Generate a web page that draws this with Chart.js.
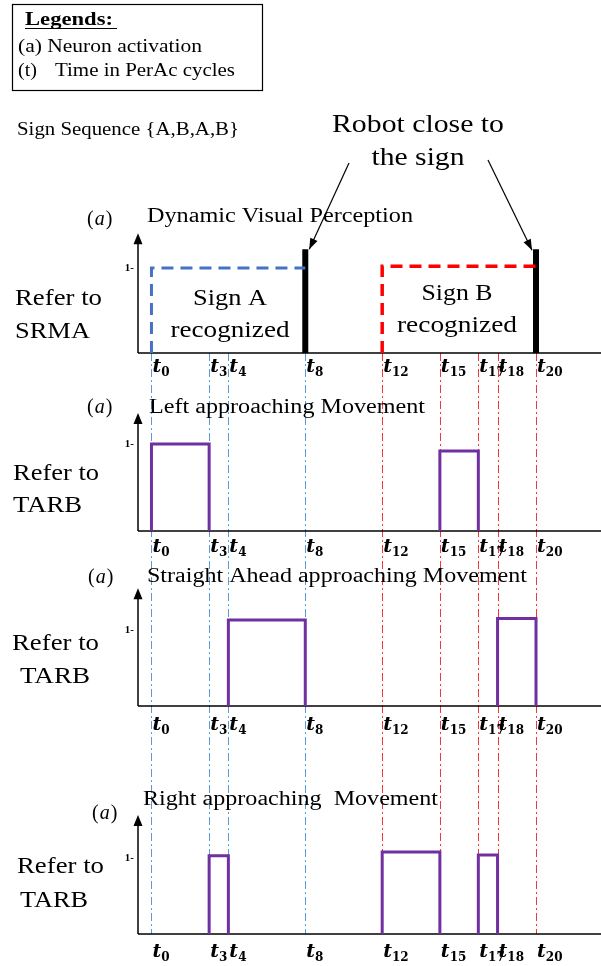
<!DOCTYPE html>
<html lang="en">
<head>
<meta charset="UTF-8">
<title>Sign Sequence {A,B,A,B}</title>
<script src="https://cdn.jsdelivr.net/npm/chart.js"></script>
<style>
  body { margin: 0; background: #fff; }
  canvas { display: block; }
</style>
</head>
<body>
<canvas id="chart" width="601" height="966"></canvas>
<script>
// time instants (PerAc cycles) and their subscripts
const times = [0, 3, 4, 8, 12, 15, 17, 18, 20];
const tickSubs = ['0', '3', '4', '8', '12', '15', '17', '18', '20'];

// dynamic visual perception (SRMA)
const signATimes = [0, 8], signALevel = 1.0;
const signBTimes = [12, 20], signBLevel = 1.02;
const closeTimes = [8, 20], closeLevel = 1.22;

// movement pulses: [start, end, activation]
const leftPulses = [[0, 3, 1.0], [15, 17, 0.92]];
const straightPulses = [[4, 8, 1.13], [18, 20, 1.15]];
const rightPulses = [[3, 4, 1.03], [12, 15, 1.08], [17, 18, 1.04]];

const H = 966;
const SERIF = 'Liberation Serif';

// one stacked panel per y axis (base/unit = where the panel sits on the page)
const panels = [
  { id: 'y1', base: 353, unit: 85, arrowTop: 1.41, tickDy: 19,
    title: 'Dynamic Visual Perception', tx: 147, ty: 222, tw: 266, ax: 87, ay: 225,
    side: [['Refer to', 15, 305, 87], ['SRMA', 15, 338, 75]] },
  { id: 'y2', base: 531, unit: 87, arrowTop: 1.356, tickDy: 21,
    title: 'Left approaching Movement', tx: 149, ty: 413, tw: 276, ax: 87, ay: 413,
    side: [['Refer to', 13, 480, 86], ['TARB', 13, 512, 69]] },
  { id: 'y3', base: 706, unit: 76, arrowTop: 1.55, tickDy: 24,
    title: 'Straight Ahead approaching Movement', tx: 147, ty: 582, tw: 380, ax: 88, ay: 583,
    side: [['Refer to', 12, 650, 87], ['TARB', 20, 683, 70]] },
  { id: 'y4', base: 934, unit: 76, arrowTop: 1.566, tickDy: 23,
    title: 'Right approaching  Movement', tx: 143, ty: 805, tw: 295, ax: 92, ay: 819,
    side: [['Refer to', 17, 873, 87], ['TARB', 20, 907, 68]] }
];

function pulseData(list) {
  const out = [];
  list.forEach(([a, b, v]) => {
    out.push({x: a, y: 0}, {x: a, y: v}, {x: b, y: v}, {x: b, y: 0}, {x: b, y: null});
  });
  return out;
}
function barData(ts, v) {
  const out = [];
  ts.forEach(t => out.push({x: t, y: 0}, {x: t, y: v}, {x: t, y: null}));
  return out;
}

function line(ctx, x1, y1, x2, y2) {
  ctx.beginPath(); ctx.moveTo(x1, y1); ctx.lineTo(x2, y2); ctx.stroke();
}
function arrowHead(ctx, x1, y1, x2, y2, len, half) {
  const a = Math.atan2(y2 - y1, x2 - x1);
  ctx.beginPath();
  ctx.moveTo(x2, y2);
  ctx.lineTo(x2 - len * Math.cos(a) + half * Math.sin(a), y2 - len * Math.sin(a) - half * Math.cos(a));
  ctx.lineTo(x2 - len * Math.cos(a) - half * Math.sin(a), y2 - len * Math.sin(a) + half * Math.cos(a));
  ctx.closePath(); ctx.fill();
}
// text squeezed/stretched to the width it has in the figure
function text(ctx, s, x, y, font, w, align) {
  ctx.save();
  ctx.font = font;
  ctx.textBaseline = 'alphabetic';
  ctx.textAlign = align || 'left';
  const k = w ? w / ctx.measureText(s).width : 1;
  ctx.translate(x, y); ctx.scale(k, 1);
  ctx.fillText(s, 0, 0);
  ctx.restore();
}

const drawing = {
  id: 'drawing',
  beforeDatasetsDraw(chart) {
    const {ctx, chartArea, scales} = chart;
    const xs = scales.x;
    const top = scales.y1.getPixelForValue(0), bottom = scales.y4.getPixelForValue(0);
    ctx.save();
    // dash-dot guides through all panels
    ctx.lineWidth = 1;
    ctx.setLineDash([8, 3, 2, 3]);
    times.forEach(t => {
      const px = Math.round(xs.getPixelForValue(t)) + 0.5;
      ctx.strokeStyle = t <= 8 ? '#5B9BD5' : 'rgba(255,0,0,0.8)';
      line(ctx, px, top, px, bottom);
    });
    ctx.setLineDash([]);
    ctx.strokeStyle = '#000'; ctx.fillStyle = '#000';
    panels.forEach(p => {
      const s = scales[p.id];
      const b = s.getPixelForValue(0), t = s.getPixelForValue(p.arrowTop);
      ctx.lineWidth = 1.5;
      line(ctx, chartArea.left, b, chartArea.right, b);
      line(ctx, chartArea.left, b, chartArea.left, t + 6);
      arrowHead(ctx, chartArea.left, b, chartArea.left, t, 11, 4.5);
      ctx.font = 'bold 11px ' + SERIF;
      ctx.textAlign = 'right'; ctx.textBaseline = 'middle';
      ctx.fillText('1-', chartArea.left - 4, s.getPixelForValue(1));
    });
    ctx.restore();
  },
  afterDatasetsDraw(chart) {
    const {ctx, scales} = chart;
    const xs = scales.x;
    ctx.save();
    ctx.fillStyle = '#000'; ctx.strokeStyle = '#000';

    // legend box
    ctx.lineWidth = 1.2;
    ctx.strokeRect(12.5, 4.5, 250, 86);
    text(ctx, 'Legends:', 25, 25, 'bold 19px ' + SERIF, 88);
    line(ctx, 25, 28.5, 117, 28.5);
    text(ctx, '(a) Neuron activation', 18, 52, '19px ' + SERIF, 184);
    text(ctx, '(t)', 18, 76, '19px ' + SERIF, 19);
    text(ctx, 'Time in PerAc cycles', 55, 76, '19px ' + SERIF, 180);
    text(ctx, 'Sign Sequence {A,B,A,B}', 17, 135, '19px ' + SERIF, 222);

    // robot close to the sign + arrows to the black bars
    text(ctx, 'Robot close to', 418, 132, '25px ' + SERIF, 172, 'center');
    text(ctx, 'the sign', 418, 165, '25px ' + SERIF, 93, 'center');
    const barTop = scales.y1.getPixelForValue(closeLevel);
    const ends = [[349, 163, xs.getPixelForValue(closeTimes[0]) + 4, barTop],
                  [488, 160, xs.getPixelForValue(closeTimes[1]) - 4, barTop + 1]];
    ctx.lineWidth = 1.2;
    ends.forEach(([x1, y1, x2, y2]) => {
      line(ctx, x1, y1, x2, y2);
      arrowHead(ctx, x1, y1, x2, y2, 11, 4);
    });

    // sign boxes captions
    text(ctx, 'Sign A', 230, 305, '23px ' + SERIF, 74, 'center');
    text(ctx, 'recognized', 230, 337, '23px ' + SERIF, 119, 'center');
    text(ctx, 'Sign B', 457, 300, '23px ' + SERIF, 71, 'center');
    text(ctx, 'recognized', 457, 332, '23px ' + SERIF, 120, 'center');

    panels.forEach(p => {
      const s = scales[p.id];
      const b = s.getPixelForValue(0);
      // panel titles
      text(ctx, p.title, p.tx, p.ty, '20px ' + SERIF, p.tw);
      ctx.font = '20px ' + SERIF; ctx.textAlign = 'left'; ctx.textBaseline = 'alphabetic';
      let ax = p.ax;
      ctx.fillText('(', ax, p.ay); ax += ctx.measureText('(').width + 1;
      ctx.font = 'italic 20px ' + SERIF;
      ctx.fillText('a', ax, p.ay); ax += ctx.measureText('a').width + 1;
      ctx.font = '20px ' + SERIF;
      ctx.fillText(')', ax, p.ay);
      p.side.forEach(([s2, x, y, w]) => text(ctx, s2, x, y, '23px ' + SERIF, w));
      // time ticks t_n
      times.forEach((t, i) => {
        const px = xs.getPixelForValue(t) + 1;
        const by = b + p.tickDy;
        ctx.font = 'bold italic 19px "DejaVu Serif"';
        ctx.fillText('t', px, by);
        const w = ctx.measureText('t').width;
        ctx.font = 'bold 12px "DejaVu Serif"';
        ctx.fillText(tickSubs[i], px + w, by + 4);
      });
    });
    ctx.restore();
  }
};

const yScales = {};
panels.forEach(p => {
  yScales[p.id] = { type: 'linear', display: false, bounds: 'data',
                    min: -(H - p.base) / p.unit, max: p.base / p.unit };
});

const purple = '#7030A0';
const common = { pointRadius: 0, tension: 0, fill: false, borderJoinStyle: 'miter', spanGaps: false };

new Chart(document.getElementById('chart'), {
  type: 'line',
  data: {
    datasets: [
      { ...common, label: 'Sign A recognized', yAxisID: 'y1', borderColor: '#4472C4', borderWidth: 3,
        borderDash: [12, 7],
        data: [{x: signATimes[0], y: 0}, {x: signATimes[0], y: signALevel}, {x: signATimes[1], y: signALevel}] },
      { ...common, label: 'Sign B recognized', yAxisID: 'y1', borderColor: '#FF0000', borderWidth: 3.5,
        borderDash: [12, 7],
        data: [{x: signBTimes[0], y: 0}, {x: signBTimes[0], y: signBLevel}, {x: signBTimes[1], y: signBLevel}] },
      { ...common, label: 'Robot close to the sign', yAxisID: 'y1', borderColor: '#000', borderWidth: 6,
        borderCapStyle: 'butt', data: barData(closeTimes, closeLevel) },
      { ...common, label: 'Left approaching Movement', yAxisID: 'y2', borderColor: purple, borderWidth: 3,
        data: pulseData(leftPulses) },
      { ...common, label: 'Straight Ahead approaching Movement', yAxisID: 'y3', borderColor: purple, borderWidth: 3,
        data: pulseData(straightPulses) },
      { ...common, label: 'Right approaching Movement', yAxisID: 'y4', borderColor: purple, borderWidth: 3,
        data: pulseData(rightPulses) }
    ]
  },
  options: {
    responsive: false,
    animation: false,
    layout: { padding: { left: 138, right: 0, top: 0, bottom: 0 } },
    plugins: { legend: { display: false }, tooltip: { enabled: false } },
    scales: {
      x: { type: 'linear', display: false, bounds: 'data', min: -0.7, max: 23.38 },
      ...yScales
    }
  },
  plugins: [drawing]
});
</script>
</body>
</html>
